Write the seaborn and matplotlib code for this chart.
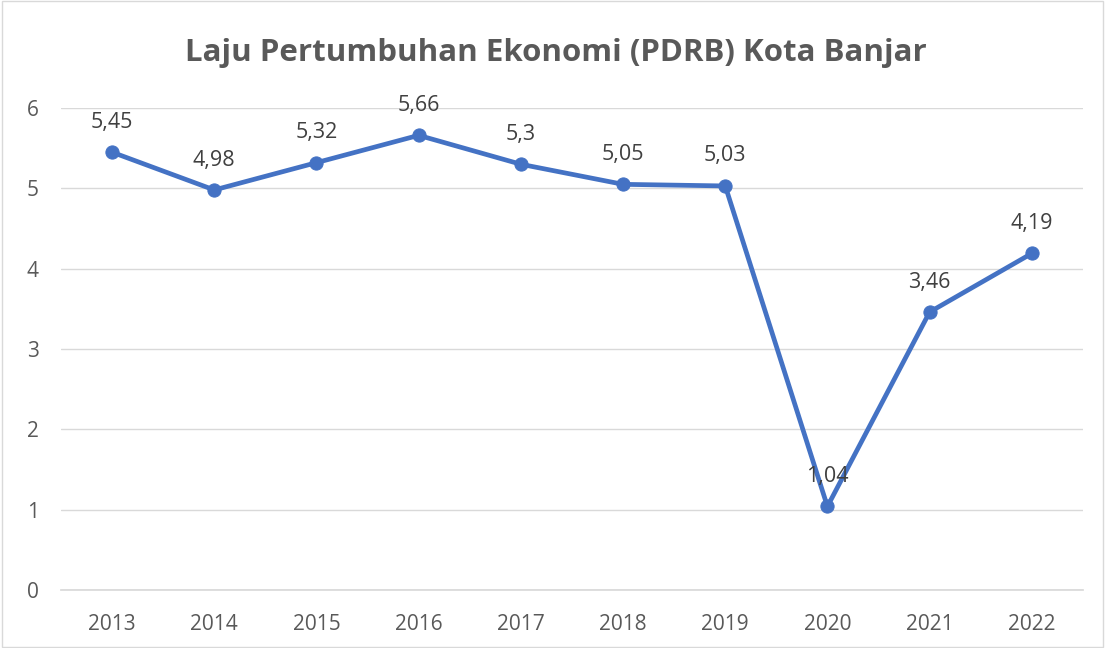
import matplotlib
matplotlib.use("Agg")
import matplotlib.pyplot as plt
import seaborn as sns
import pandas as pd
from matplotlib.patches import Rectangle

years = ["2013", "2014", "2015", "2016", "2017", "2018", "2019", "2020", "2021", "2022"]
growth = [5.45, 4.98, 5.32, 5.66, 5.30, 5.05, 5.03, 1.04, 3.46, 4.19]
labels = ["5,45", "4,98", "5,32", "5,66", "5,3", "5,05", "5,03", "1,04", "3,46", "4,19"]
title = "Laju Pertumbuhan Ekonomi (PDRB) Kota Banjar"

sns.set_theme(style="white")
plt.rcParams['font.family'] = ['Open Sans', 'DejaVu Sans']

df = pd.DataFrame({"year": years, "growth": growth})

fig = plt.figure(figsize=(11.05, 6.48), dpi=100)
ax = fig.add_axes([0.0552, 0.0895, 0.9248, 0.7438])

sns.lineplot(data=df, x="year", y="growth", ax=ax, color="#4472C4", linewidth=3.4,
             marker="o", markersize=9.5, markeredgecolor="#4472C4", sort=False)

ax.set_ylim(0, 6)
ax.set_xlim(-0.5, len(years) - 0.5)
ax.set_yticks(range(0, 7))
ax.grid(axis="y", color="#D9D9D9", linewidth=1)
ax.set_axisbelow(True)
for s in ["top", "right", "left"]:
    ax.spines[s].set_visible(False)
ax.spines["bottom"].set_color("#D9D9D9")
ax.set_xlabel("")
ax.set_ylabel("")
ax.tick_params(axis="both", length=0, labelsize=15, labelcolor="#595959")
ax.tick_params(axis="y", pad=16)
ax.tick_params(axis="x", pad=17)

for i, (v, t) in enumerate(zip(growth, labels)):
    ax.annotate(t, (i, v), xytext=(0, 14), textcoords="offset points",
                ha="center", va="bottom", fontsize=15.5, color="#404040")

fig.text(0.503, 0.918, title, ha="center", va="center", fontsize=22.5,
         fontweight="bold", color="#595959")

fig.patches.append(Rectangle((0.0015, 0.002), 0.997, 0.996, transform=fig.transFigure,
                             fill=False, edgecolor="#D9D9D9", linewidth=1))

fig.savefig("out.png", dpi=100)
